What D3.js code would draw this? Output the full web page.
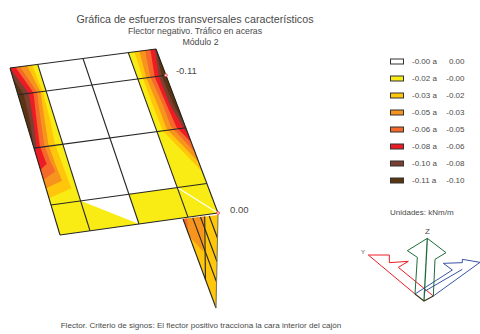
<!DOCTYPE html>
<html><head><meta charset="utf-8">
<script src="https://cdn.jsdelivr.net/npm/d3@7/dist/d3.min.js"></script>
<style>html,body{margin:0;padding:0;background:#fff}svg{display:block}text{font-family:"Liberation Sans",Arial,sans-serif;fill:#4a4a4a}</style>
</head><body><svg id="c" width="480" height="334"></svg>
<script>
const legendFrom=["-0.00 a","-0.02 a","-0.03 a","-0.05 a","-0.06 a","-0.08 a","-0.10 a","-0.11 a"];
const legendTo=["0.00","-0.00","-0.02","-0.03","-0.05","-0.06","-0.08","-0.10"];
const bandColors=["#ffffff","#f9ec14","#ffc60b","#f7941d","#f5692a","#ed1c24","#7b3f31","#5a3413"];
const gridU=[0,.19,.5,.81,1];
const gridV=[0,.16,.48,.82,1];
const extremeMarks=[{u:1,v:.16,label:"-0.11"},{u:1,v:1,label:"0.00"}];
// contour boundaries across each edge strip: [s across strip, v along plate]
const leftBands=[
 [2,[[.8,0],[.88,.16],[.83,.33],[.74,.47],[.78,.6],[.83,.74],[0,.78]]],
 [3,[[.62,0],[.8,.16],[.64,.33],[.52,.47],[.55,.6],[.6,.69],[0,.72]]],
 [4,[[.36,0],[.68,.16],[.5,.33],[.37,.47],[.42,.58],[.47,.63],[0,.67]]],
 [5,[[.2,0],[.55,.16],[.36,.33],[.22,.47],[.25,.56],[.27,.58],[0,.61]]],
 [6,[[0,0],[.38,.16],[.25,.33],[.1,.47],[0,.5]]],
 [7,[[0,.06],[.2,.16],[.13,.33],[.02,.45],[0,.46]]]
];
const rightBands=[
 [2,[[.22,0],[.18,.16],[.18,.33],[.2,.48],[1,.75]]],
 [3,[[.4,0],[.3,.16],[.35,.33],[.35,.47],[1,.69]]],
 [4,[[.6,0],[.45,.16],[.53,.33],[.52,.46],[1,.63]]],
 [5,[[.8,0],[.6,.16],[.65,.33],[.7,.47],[1,.57]]],
 [6,[[.96,0],[.75,.16],[.76,.33],[.9,.46],[1,.52]]],
 [7,[[1,0],[.85,.16],[.88,.33],[.96,.42],[1,.47]]]
];
const midTriangle=[[.19,.82],[.5,1],[.19,1]];
// side web: [a along the top, b down the left edge]
const webOrange=[[0,0],[.6,0],[.23,.38],[0,.2]];
const webDeep=[[0,0],[.12,0],[0,.16]];
const webLinesA=[.28,.5,.75];
const webDiagonal=[[.62,0],[0,.68]];
// axis triad outlines (triad units)
const triadRed=[[235,228],[130,142],[160,124],[103,128],[103,105],[40,105],[180,222]];
const triadGreen=[[180,222],[187,112],[157,92],[217,55],[273,98],[240,118],[235,228]];
const triadGreenMid=[[217,55],[207,243]];
const triadBlue=[[180,222],[292,150],[265,130],[322,128],[322,118],[375,127],[235,228]];
const triadBlueMid=[[207,215],[322,148]];
const triadBase=[[180,222],[207,243],[235,228]];

const svg=d3.select("#c");
const xL=d3.scaleLinear([0,1],[10,60]),yL=d3.scaleLinear([0,1],[68,235]);
const xR=d3.scaleLinear([0,1],[156,218]),yR=d3.scaleLinear([0,1],[49,213]);
const P=(u,v)=>[d3.interpolateNumber(xL(v),xR(v))(u),d3.interpolateNumber(yL(v),yR(v))(u)];
const line=d3.line();
const INK="#262626";
const quad=(u0,u1,v0,v1)=>line([P(u0,v0),P(u1,v0),P(u1,v1),P(u0,v1)])+"Z";

// web
const WA=[183,219],WB=[218,215],WC=[216,308];
const W=([a,b])=>[WA[0]+a*(WB[0]-WA[0])+b*(WC[0]-WA[0]),WA[1]+a*(WB[1]-WA[1])+b*(WC[1]-WA[1])];
const web=svg.append("g");
web.append("path").attr("d",line([[0,0],[1,0],[0,1]].map(W))+"Z").attr("fill",bandColors[2]);
web.append("path").attr("d",line(webOrange.map(W))+"Z").attr("fill",bandColors[3]);
web.append("path").attr("d",line(webDeep.map(W))+"Z").attr("fill",bandColors[4]);
web.selectAll("path.l").data(webLinesA).join("path").attr("class","l")
 .attr("d",a=>line([W([a,0]),W([a,1-a])])).attr("fill","none").attr("stroke",INK).attr("stroke-width",1.1);
web.append("path").attr("d",line(webDiagonal.map(W))).attr("fill","none").attr("stroke",INK).attr("stroke-width",1.1);
web.append("path").attr("d",line([[0,0],[0,1]].map(W))).attr("fill","none").attr("stroke",INK).attr("stroke-width",1.1);
web.append("path").attr("d",line([[1,0],[0,1]].map(W))).attr("fill","none").attr("stroke","#7d7a50").attr("stroke-width",1.1);

// plate
const plate=svg.append("g");
plate.append("path").attr("d",quad(0,1,0,1)).attr("fill",bandColors[0]);
const uLs=gridU[1],uRs=gridU[3];
plate.append("path").attr("d",quad(0,uLs,0,1)).attr("fill",bandColors[1]);
plate.append("path").attr("d",quad(uRs,1,0,1)).attr("fill",bandColors[1]);
plate.append("path").attr("d",quad(gridU[2],uRs,gridV[3],1)).attr("fill",bandColors[1]);
plate.append("path").attr("d",line(midTriangle.map(d=>P(d[0],d[1])))+"Z").attr("fill",bandColors[1]);
plate.selectAll("path.lb").data(leftBands).join("path").attr("class","lb")
 .attr("fill",d=>bandColors[d[0]])
 .attr("d",d=>line([[0,0],...d[1]].map(([s,v])=>P(s*uLs,v)))+"Z");
plate.selectAll("path.rb").data(rightBands).join("path").attr("class","rb")
 .attr("fill",d=>bandColors[d[0]])
 .attr("d",d=>line([[1,0],...d[1]].map(([s,v])=>P(uRs+s*(1-uRs),v)))+"Z");
plate.append("path").attr("d",line([P(uRs,gridV[3]),P(1,1)])).attr("stroke","#fff").attr("stroke-width",1.2);
gridU.forEach(u=>plate.append("path").attr("d",line([P(u,0),P(u,1)])).attr("stroke",INK).attr("stroke-width",1.1).attr("fill","none"));
gridV.forEach(v=>plate.append("path").attr("d",line([P(0,v),P(1,v)])).attr("stroke",INK).attr("stroke-width",1.1).attr("fill","none"));

extremeMarks.forEach((m,i)=>{
 const [x,y]=P(m.u,m.v);
 svg.append("circle").attr("cx",x).attr("cy",y).attr("r",1.4).attr("fill","#fff").attr("stroke","#ed2a3a").attr("stroke-width",.9);
 svg.append("text").attr("x",x+(i?12:10)).attr("y",y+(i?-.5:-1.5)).attr("font-size",9.5).text(m.label);
});

// titles
const T=(x,y,s,t,a)=>svg.append("text").attr("x",x).attr("y",y).attr("font-size",s).attr("text-anchor",a||"middle").text(t);
T(195,23,10.7,"Gráfica de esfuerzos transversales característicos");
T(195,34,8.75,"Flector negativo. Tráfico en aceras");
T(200.5,45,8.8,"Módulo 2");
T(201,328,8.1,"Flector. Criterio de signos:  El flector positivo tracciona la cara interior del cajón");

// legend
const ly=d3.scalePoint(d3.range(legendFrom.length),[61.5,180.5]);
const lg=svg.append("g").selectAll("g").data(legendFrom).join("g").attr("transform",(d,i)=>`translate(0,${ly(i)})`);
lg.append("rect").attr("x",390.5).attr("y",-2.5).attr("width",13).attr("height",5).attr("fill",(d,i)=>bandColors[i]).attr("stroke","#333").attr("stroke-width",1);
lg.append("text").attr("x",412).attr("y",2.5).attr("font-size",8).text(d=>d);
lg.append("text").attr("x",464.5).attr("y",2.5).attr("font-size",8).attr("text-anchor","end").text((d,i)=>legendTo[i]);
T(390,214.5,8,"Unidades: kNm/m","start");

// triad
const tx=d3.scaleLinear([0,375],[355,480]),ty=d3.scaleLinear([0,255],[220,305]);
const tl=d3.line().x(d=>tx(d[0])).y(d=>ty(d[1]));
const tp=(d,c,w)=>svg.append("path").attr("d",tl(d)).attr("fill","none").attr("stroke",c).attr("stroke-width",w||1);
tp(triadRed,"#ed1c24");
tp(triadBlue,"#3953a4");
tp(triadBlueMid,"#3953a4");
tp(triadGreen,"#1f6b3a");
tp(triadGreenMid,"#1f6b3a",1.3);
tp(triadBase,"#3a3a20",1.2);
T(427.5,234,8,"Z");
T(363,254,6,"Y");
</script></body></html>
